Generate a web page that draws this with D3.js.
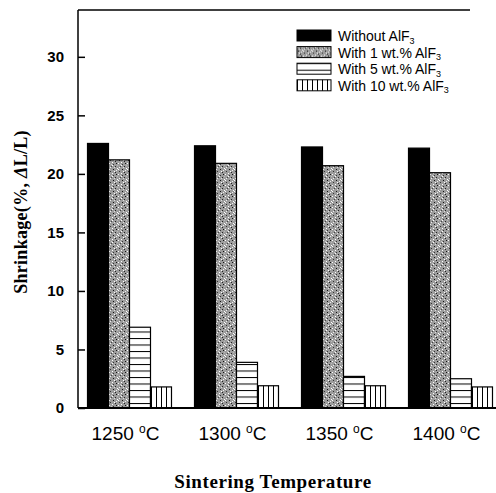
<!DOCTYPE html>
<html>
<head>
<meta charset="utf-8">
<script src="https://d3js.org/d3.v7.min.js"></script>
<style>
  body { margin: 0; background: #fff; }
  .tick-lab { font-family: "Liberation Sans", Arial, sans-serif; font-size: 15px; font-weight: bold; }
  .cat-lab { font-family: "Liberation Sans", Arial, sans-serif; font-size: 19px; }
  .leg { font-family: "Liberation Sans", Arial, sans-serif; font-size: 14px; }
  .ttl { font-family: "Liberation Serif", "DejaVu Serif", serif; font-size: 19px; font-weight: bold; letter-spacing: 0.6px; }
  .ttl-y { font-family: "Liberation Serif", "DejaVu Serif", serif; font-size: 18px; font-weight: bold; letter-spacing: 0.3px; }
</style>
</head>
<body>
<div id="chart"></div>
<script>
// data
var temps = ["1250", "1300", "1350", "1400"];
var seriesNames = ["Without AlF", "With 1 wt.% AlF", "With 5 wt.% AlF", "With 10 wt.% AlF"];
var without = [22.6, 22.4, 22.3, 22.2];
var with1 = [21.2, 20.9, 20.7, 20.1];
var with5 = [6.9, 3.9, 2.7, 2.5];
var with10 = [1.8, 1.9, 1.9, 1.8];
var yTicks = [0, 5, 10, 15, 20, 25, 30];

var allSeries = [without, with1, with5, with10];

var width = 496, height = 493;
var plotL = 78, plotT = 10, plotB = 408;

var svg = d3.select("#chart").append("svg")
  .attr("width", width)
  .attr("height", height);

var defs = svg.append("defs");

// stipple pattern for the 1 wt.% bars
var pStip = defs.append("pattern")
  .attr("id", "stip").attr("patternUnits", "userSpaceOnUse")
  .attr("width", 9).attr("height", 11);
pStip.append("rect").attr("width", 9).attr("height", 11).attr("fill", "#9c9c9c");
var dots = [[0,0,"#fff"],[3,1,"#222"],[5,3,"#fff"],[1,4,"#111"],[4,5,"#eee"],[7,6,"#333"],
            [2,2,"#ddd"],[8,1,"#444"],[0,8,"#fff"],[6,9,"#fff"],[3,7,"#222"],[8,10,"#ccc"],
            [5,0,"#bbb"],[1,10,"#333"],[6,4,"#fff"],[2,6,"#fff"],[7,2,"#eee"],[4,9,"#111"]];
dots.forEach(function(d) {
  pStip.append("rect").attr("x", d[0]).attr("y", d[1]).attr("width", 1).attr("height", 1).attr("fill", d[2]);
});

var pH = defs.append("pattern")
  .attr("id", "hatchH").attr("patternUnits", "userSpaceOnUse")
  .attr("width", 8).attr("height", 6.5);
pH.append("rect").attr("width", 8).attr("height", 6.5).attr("fill", "#fff");
pH.append("line").attr("x1", 0).attr("x2", 8).attr("y1", 0.5).attr("y2", 0.5)
  .attr("stroke", "#000").attr("stroke-width", 1);

var pV = defs.append("pattern")
  .attr("id", "hatchV").attr("patternUnits", "userSpaceOnUse")
  .attr("width", 5).attr("height", 8);
pV.append("rect").attr("width", 5).attr("height", 8).attr("fill", "#fff");
pV.append("line").attr("y1", 0).attr("y2", 8).attr("x1", 0.5).attr("x2", 0.5)
  .attr("stroke", "#000").attr("stroke-width", 1);

var fills = ["#000", "url(#stip)", "url(#hatchH)", "url(#hatchV)"];

var x0 = d3.scaleBand().domain(temps).range([76, 504]).paddingInner(0).paddingOuter(0);
var x1 = d3.scaleBand().domain(d3.range(4)).range([0, x0.bandwidth()]).paddingInner(0).paddingOuter(0.548);
var y = d3.scaleLinear().domain([0, 34]).range([plotB, plotT]);

// bars
temps.forEach(function(t, i) {
  var g = svg.append("g").attr("transform", "translate(" + x0(t) + ",0)");
  g.selectAll("rect")
    .data(allSeries.map(function(s, k) { return { k: k, v: s[i] }; }))
    .enter().append("rect")
    .attr("x", function(d) { return x1(d.k); })
    .attr("y", function(d) { return y(d.v); })
    .attr("width", x1.bandwidth())
    .attr("height", function(d) { return y(0) - y(d.v); })
    .attr("fill", function(d) { return fills[d.k]; })
    .attr("stroke", "#000")
    .attr("stroke-width", 1.2);
});

// frame
svg.append("line").attr("x1", plotL).attr("x2", 470).attr("y1", plotT).attr("y2", plotT)
  .attr("stroke", "#000").attr("stroke-width", 1.5);
svg.append("line").attr("x1", plotL).attr("x2", width).attr("y1", plotB).attr("y2", plotB)
  .attr("stroke", "#000").attr("stroke-width", 2);

// y axis
var yAxis = d3.axisLeft(y).tickValues(yTicks).tickSize(-7).tickPadding(14);
var ya = svg.append("g").attr("transform", "translate(" + plotL + ",0)").call(yAxis);
ya.select(".domain").attr("stroke-width", 1.5).attr("d", "M0," + plotT + "V" + plotB);
ya.selectAll(".tick line").attr("stroke-width", 1.5);
ya.selectAll("text").attr("class", "tick-lab").attr("fill", "#000");

// category labels
svg.selectAll(".cat-lab").data(temps).enter().append("text")
  .attr("class", "cat-lab")
  .attr("x", function(d) { return x0(d) + x0.bandwidth() / 2 - 4; })
  .attr("y", 440)
  .attr("text-anchor", "middle")
  .each(function(d) {
    var t = d3.select(this);
    t.append("tspan").text(d + " ");
    t.append("tspan").attr("dy", -7).attr("font-size", 12).text("o");
    t.append("tspan").attr("dy", 7).text("C");
  });

// axis titles
svg.append("text").attr("class", "ttl")
  .attr("x", 273).attr("y", 488).attr("text-anchor", "middle")
  .text("Sintering  Temperature");

var yt = svg.append("text").attr("class", "ttl-y")
  .attr("transform", "translate(27,212) rotate(-90)")
  .attr("text-anchor", "middle");
yt.append("tspan").text("Shrinkage(%,  ");
yt.append("tspan").attr("font-style", "italic").text("Δ");
yt.append("tspan").text("L/L)");

// legend
var leg = svg.append("g").attr("transform", "translate(297,30)");
seriesNames.forEach(function(n, k) {
  var r = leg.append("g").attr("transform", "translate(0," + (k * 16.6) + ")");
  r.append("rect").attr("width", 34).attr("height", 11)
    .attr("fill", fills[k]).attr("stroke", "#000").attr("stroke-width", 1);
  var t = r.append("text").attr("class", "leg").attr("x", 41).attr("y", 11);
  t.append("tspan").text(n);
  t.append("tspan").attr("dy", 2.5).attr("font-size", 9).text("3");
});
</script>
</body>
</html>
